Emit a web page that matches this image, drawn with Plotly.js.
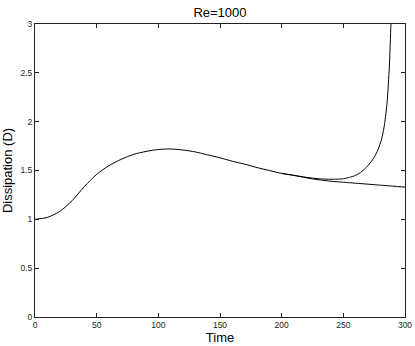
<!DOCTYPE html>
<html>
<head>
<meta charset="utf-8">
<script src="https://cdn.plot.ly/plotly-3.0.1.min.js"></script>
<style>
  html, body { margin: 0; padding: 0; background: #fff; }
  #plot { width: 415px; height: 346px; }
</style>
</head>
<body>
<div id="plot"></div>
<script>
// shared part of both runs
let tCommon = [0, 10, 20, 30, 40, 50, 60, 70, 80, 90, 100, 110, 120, 130, 140, 150, 160, 170, 180, 190, 200, 210];
let dCommon = [1.0, 1.02, 1.08, 1.19, 1.335, 1.46, 1.55, 1.615, 1.665, 1.695, 1.715, 1.72, 1.71, 1.69, 1.66, 1.63, 1.595, 1.565, 1.53, 1.50, 1.47, 1.45];

// branch that settles
let tLower = [220, 230, 240, 250, 260, 270, 280, 290, 300];
let dLower = [1.425, 1.405, 1.39, 1.38, 1.37, 1.36, 1.35, 1.34, 1.33];

// branch that blows up
let tUpper = [220, 230, 240, 250, 255, 260, 265, 270, 275, 278, 281, 283.5, 285.5, 287.3, 288.6, 289.5];
let dUpper = [1.43, 1.415, 1.41, 1.415, 1.43, 1.45, 1.49, 1.55, 1.635, 1.71, 1.82, 1.98, 2.2, 2.56, 3.0, 3.3];

let font = 'Liberation Sans, Arial, Helvetica, sans-serif';

let trace1 = {
  x: tCommon.concat(tLower),
  y: dCommon.concat(dLower),
  mode: 'lines',
  line: { color: '#000', width: 1, shape: 'spline', smoothing: 0.8 },
  showlegend: false
};

let trace2 = {
  x: tCommon.slice(-2).concat(tUpper),
  y: dCommon.slice(-2).concat(dUpper),
  mode: 'lines',
  line: { color: '#000', width: 1, shape: 'spline', smoothing: 0.6 },
  showlegend: false
};

let axisStyle = {
  showgrid: false,
  zeroline: false,
  showline: true,
  linecolor: '#222',
  linewidth: 1,
  mirror: 'ticks',
  ticks: 'inside',
  ticklen: 4,
  tickcolor: '#222',
  tickfont: { family: font, size: 8.5, color: '#222' }
};

let layout = {
  width: 415,
  height: 346,
  margin: { l: 35, r: 10, t: 24, b: 29 },
  paper_bgcolor: '#fff',
  plot_bgcolor: '#fff',
  title: {
    text: 'Re=1000',
    font: { family: font, size: 13, color: '#000' },
    x: 0.53, xanchor: 'center',
    y: 0.965, yanchor: 'middle'
  },
  xaxis: Object.assign({}, axisStyle, {
    range: [0, 300],
    tickvals: [0, 50, 100, 150, 200, 250, 300],
    title: { text: 'Time', font: { family: font, size: 13, color: '#000' }, standoff: 3 }
  }),
  yaxis: Object.assign({}, axisStyle, {
    range: [0, 3],
    tickvals: [0, 0.5, 1, 1.5, 2, 2.5, 3],
    ticktext: ['0', '0.5', '1', '1.5', '2', '2.5', '3'],
    title: { text: 'Dissipation (D)', font: { family: font, size: 13, color: '#000' }, standoff: 6 }
  })
};

Plotly.newPlot('plot', [trace1, trace2], layout, { staticPlot: true });
</script>
</body>
</html>
